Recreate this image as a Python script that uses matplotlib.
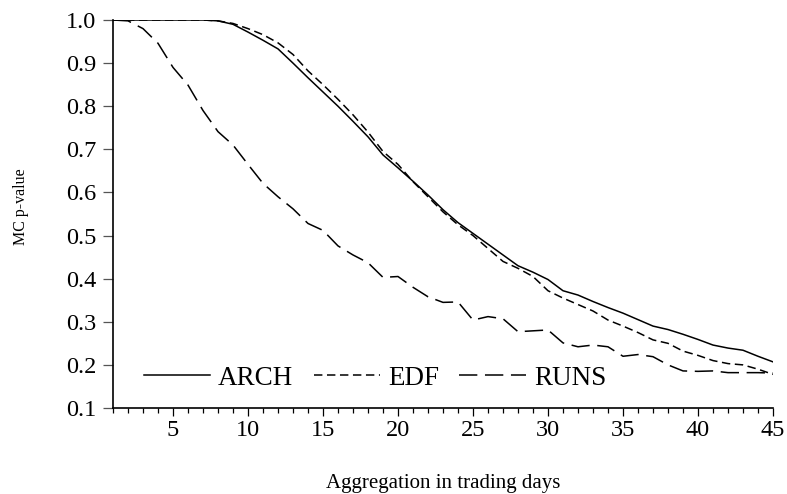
import numpy as np
import matplotlib
matplotlib.use('Agg')
import matplotlib.pyplot as plt
from matplotlib.ticker import MultipleLocator

plt.rcParams['font.family'] = ['Liberation Serif', 'DejaVu Serif']

# aggregation level (trading days)
days = list(range(1, 46))

arch = [1.0, 1.0, 1.0, 1.0, 1.0, 1.0, 1.0, 0.998, 0.99, 0.972,
        0.953, 0.933, 0.90, 0.866, 0.833, 0.80, 0.765, 0.729, 0.687, 0.657,
        0.626, 0.594, 0.56, 0.53, 0.505, 0.48, 0.455, 0.43, 0.415, 0.398,
        0.372, 0.362, 0.347, 0.333, 0.32, 0.305, 0.29, 0.282, 0.271, 0.259,
        0.246, 0.239, 0.234, 0.22, 0.207]

edf = [1.0, 1.0, 1.0, 1.0, 1.0, 1.0, 1.0, 0.998, 0.992, 0.98,
       0.966, 0.947, 0.92, 0.882, 0.85, 0.816, 0.78, 0.74, 0.695, 0.665,
       0.625, 0.59, 0.555, 0.525, 0.5, 0.47, 0.44, 0.424, 0.405, 0.372,
       0.355, 0.34, 0.325, 0.304, 0.29, 0.275, 0.258, 0.25, 0.232, 0.222,
       0.21, 0.203, 0.2, 0.19, 0.178]

runs = [1.0, 0.998, 0.98, 0.946, 0.89, 0.849, 0.79, 0.741, 0.71, 0.665,
        0.621, 0.59, 0.562, 0.528, 0.512, 0.476, 0.455, 0.437, 0.403, 0.405,
        0.38, 0.358, 0.345, 0.346, 0.304, 0.312, 0.307, 0.277, 0.279, 0.281,
        0.251, 0.242, 0.246, 0.242, 0.22, 0.224, 0.219, 0.2, 0.186, 0.185,
        0.186, 0.182, 0.182, 0.182, 0.181]

x_ticks = [5, 10, 15, 20, 25, 30, 35, 40, 45]
y_ticks = [0.1, 0.2, 0.3, 0.4, 0.5, 0.6, 0.7, 0.8, 0.9, 1.0]

fig = plt.figure(figsize=(7.87, 4.94), dpi=100)
ax = fig.add_axes([0.1436, 0.1741, 0.8386, 0.7854])

ax.plot(days, arch, color='black', lw=1.1, ls='-', label='ARCH')
ax.plot(days, edf, color='black', lw=1.1, ls=(0, (5.5, 3.0)), label='EDF')
ax.plot(days, runs, color='black', lw=1.1, ls=(0, (12.0, 5.0)), label='RUNS')

ax.set_xlim(1, 45)
ax.set_ylim(0.1, 1.0)
ax.set_xticks(x_ticks)
ax.set_yticks(y_ticks)
ax.set_yticklabels(['%.1f' % v for v in y_ticks])
ax.xaxis.set_minor_locator(MultipleLocator(1))

for side in ['top', 'right']:
    ax.spines[side].set_visible(False)
for side in ['left', 'bottom']:
    ax.spines[side].set_linewidth(1.2)

ax.tick_params(axis='both', which='major', direction='out', labelsize=17.5, width=0.9)
ax.tick_params(axis='x', which='major', length=6, pad=3)
ax.tick_params(axis='x', which='minor', length=3.5, width=0.9)
ax.tick_params(axis='y', which='major', length=7, pad=5, color='#555555')

ax.set_xlabel('Aggregation in trading days', fontsize=15)
ax.xaxis.set_label_coords(0.5, -0.17)
ax.set_ylabel('MC p-value', fontsize=11.5)
ax.yaxis.set_label_coords(-0.128, 0.518)

ax.legend(loc='lower left', bbox_to_anchor=(0.03, 0.017), ncol=3, frameon=False,
          fontsize=19.5, handlelength=2.45, handletextpad=0.3, columnspacing=0.75,
          borderaxespad=0.0)

fig.savefig('out.png', dpi=100)
